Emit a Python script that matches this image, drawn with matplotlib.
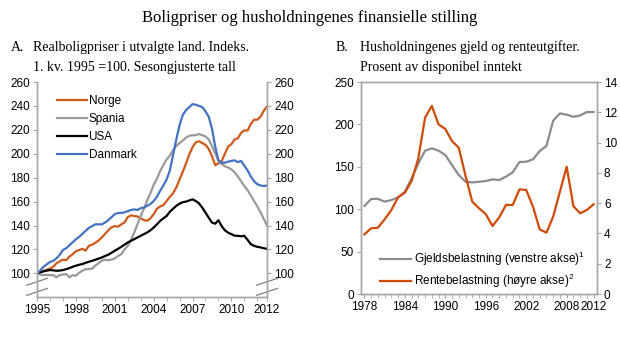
import numpy as np
import matplotlib
matplotlib.use("Agg")
import matplotlib.pyplot as plt
from matplotlib.lines import Line2D

plt.rcParams["font.family"] = ["Liberation Sans", "DejaVu Sans"]
plt.rcParams["mathtext.fontset"] = "custom"
plt.rcParams["mathtext.rm"] = "Liberation Sans"
plt.rcParams["mathtext.it"] = "Liberation Sans"

# Panel A: quarterly real house prices, 1995Q1 = 100 (1995Q1 .. 2012Q4)
norge = [100, 100.5, 102, 103, 104, 105.5, 108.5, 110, 111.5, 111, 114, 116,
         118.5, 119.5, 120.5, 119, 123, 124, 125.5, 127.5, 130, 133, 136, 138.5,
         139.5, 139, 141, 142.5, 147, 148.5, 148, 147.5, 146, 144.5, 144, 146,
         149.5, 154, 156, 157, 160.5, 164, 167, 172, 178.5, 185, 192, 199.5,
         205.5, 209.5, 210.5, 209, 207.5, 204, 198, 190.5, 192, 194, 200, 206,
         208, 212, 213, 217.5, 219.5, 219.5, 225, 228.5, 228.5, 231, 236, 239.5]
spania = [100, 99, 98.5, 98.8, 98.5, 98.6, 96.7, 98.6, 99, 99.4, 96.7, 98.5,
          98, 100.5, 102.2, 103.5, 103.6, 104, 106.5, 108.5, 110.6, 111.5, 111, 111.5,
          112.5, 114.5, 116, 120, 123, 128, 134, 141, 148, 154, 161, 167,
          174, 179, 185.5, 190.5, 195.3, 198.5, 203, 206.5, 209, 211, 213.5, 215,
          215.5, 215.5, 216.5, 215.5, 214.5, 212, 206.5, 200.5, 194, 191.5, 189.5, 188.5,
          187, 184.5, 181, 177, 173, 169.5, 165, 160.5, 156, 151, 145.5, 140]
usa = [100, 101, 101.7, 102.3, 102.8, 102.5, 102.2, 102.3, 102.8, 103.5, 104.4, 105.5,
       106.4, 107.2, 107.8, 108.8, 109.7, 110.5, 111.4, 112.3, 113.3, 114.5, 115.6, 117.2,
       118.9, 120.5, 122.2, 124, 125.8, 127.2, 128.6, 130, 131.4, 132.8, 134.2, 136,
       138.3, 141, 143.9, 146, 148, 151.5, 154, 156.5, 158.3, 159.5, 160, 161,
       161.9, 160.5, 158.5, 155, 150.8, 146.5, 142.5, 141.5, 144.4, 139.5, 136, 134,
       132.8, 131.5, 131.4, 131, 131.4, 128, 124.4, 123, 122.2, 121.7, 121, 120.5]
danmark = [100, 102.5, 105.5, 107.5, 109.5, 110.5, 112.5, 115.5, 119.5, 121, 123.5, 126,
           128.5, 130.5, 133, 135.5, 138, 139.5, 141, 141, 141, 142.5, 144.5, 147,
           149.5, 150.5, 150.5, 151, 152, 153, 153.5, 153, 154.5, 155, 156.5, 158,
           160.5, 164, 169, 173.5, 178.5, 186, 199, 212, 224, 232.5, 236.5, 239,
           241.5, 241, 240, 239, 235.5, 231, 221, 206, 194.5, 192.5, 192.5, 193.5,
           194, 194.5, 193, 194, 190, 186, 181, 177, 174.5, 173.5, 173, 173.5]
quarters = 1995 + np.arange(len(norge)) / 4

# Panel B: annual, percent of disposable income
aar = list(range(1978, 2013))
gjeld = [103.8, 112, 112.3, 108.9, 110.8, 113.9, 120.6, 136.4, 154, 169,
         171.8, 169, 163.9, 152, 140.3, 132.4, 131.6, 132.4, 133.2, 135.2,
         134.4, 138.4, 143.5, 155.7, 156, 158.8, 168.6, 174.5, 204.4, 213,
         211.5, 209, 210.6, 214.6, 214.6]
rente = [3.94, 4.34, 4.38, 4.93, 5.55, 6.39, 6.69, 7.46, 8.96, 11.65,
         12.42, 11.2, 10.9, 10.1, 9.66, 7.8, 6.1, 5.66, 5.28, 4.49,
         5.06, 5.88, 5.88, 6.91, 6.87, 5.77, 4.27, 4.05, 5.11, 6.76,
         8.41, 5.8, 5.33, 5.55, 5.93]

spine_col = "#a6a6a6"
fs = 8.5
lw = 1.6

fig = plt.figure(figsize=(6.2, 3.44), dpi=100)
fig.text(0.5, 0.947, "Boligpriser og husholdningenes finansielle stilling",
         ha="center", va="center", family="Liberation Serif", fontsize=12)
serif = dict(family="Liberation Serif", fontsize=10, va="center")
fig.text(0.018, 0.862, "A.", **serif)
fig.text(0.054, 0.862, "Realboligpriser i utvalgte land. Indeks.", **serif)
fig.text(0.054, 0.805, "1. kv. 1995 =100. Sesongjusterte tall", **serif)
fig.text(0.541, 0.862, "B.", **serif)
fig.text(0.580, 0.862, "Husholdningenes gjeld og renteutgifter.", **serif)
fig.text(0.580, 0.805, "Prosent av disponibel inntekt", **serif)


def style(ax, top=False):
    for s in ["left", "right", "bottom", "top"]:
        ax.spines[s].set_color(spine_col)
        ax.spines[s].set_linewidth(1.0)
    ax.spines["top"].set_visible(top)
    ax.tick_params(colors=spine_col, labelcolor="black", labelsize=fs,
                   length=3, width=0.8, direction="out", pad=2)


# ---- Panel A
axA = fig.add_axes([0.0597, 0.1358, 0.371, 0.6258])
axA2 = axA.twinx()
axA.plot(quarters, norge, color="#d05a1c", lw=lw, label="Norge")
axA.plot(quarters, spania, color="#9a9a9a", lw=lw, label="Spania")
axA.plot(quarters, usa, color="black", lw=lw, label="USA")
axA.plot(quarters, danmark, color="#4472c4", lw=lw, label="Danmark")
for a in (axA, axA2):
    a.set_ylim(80, 260)
    a.set_yticks(range(100, 261, 20))
    style(a)
axA.set_xlim(1995, quarters[-1])
axA.set_xticks(list(range(1995, 2011, 3)) + [quarters[-1]])
axA.set_xticklabels([str(y) for y in range(1995, 2011, 3)] + ["2012"])
axA.set_xticks(list(range(1995, 2013)), minor=True)
axA.tick_params(axis="x", which="both", length=3, colors=spine_col,
                labelcolor="black")
axA.legend(loc="upper left", bbox_to_anchor=(0.06, 0.965), frameon=False,
           fontsize=fs, handlelength=2.6, handletextpad=0.1,
           labelspacing=0.5, borderpad=0)

# axis break marks
for xc in (0.0, 1.0):
    for yc in (0.025, 0.072):
        axA.add_line(Line2D([xc - 0.045, xc + 0.045], [yc - 0.016, yc + 0.016],
                            transform=axA.transAxes, color="#808080", lw=0.9,
                            clip_on=False))

# ---- Panel B
axB = fig.add_axes([0.5823, 0.1453, 0.3806, 0.6163])
axB2 = axB.twinx()
axB.plot(aar, gjeld, color="#8c8c8c", lw=lw)
axB2.plot(aar, rente, color="#d04a08", lw=lw)
axB.set_ylim(0, 250)
axB.set_yticks(range(0, 251, 50))
axB2.set_ylim(0, 14)
axB2.set_yticks(range(0, 15, 2))
axB.set_xlim(1977.5, 2012.5)
axB.set_xticks(list(range(1978, 2009, 6)) + [2012])
axB.set_xticks(aar, minor=True)
style(axB, top=True)
style(axB2, top=True)
axB.tick_params(axis="x", which="both", length=3, colors=spine_col,
                labelcolor="black")

handles = [Line2D([], [], color="#8c8c8c", lw=lw),
           Line2D([], [], color="#d04a08", lw=lw)]
axB.legend(handles, ["Gjeldsbelastning (venstre akse)$^{1}$",
                     "Rentebelastning (høyre akse)$^{2}$"],
           loc="lower left", bbox_to_anchor=(0.055, -0.01), frameon=False,
           fontsize=fs, handlelength=2.6, handletextpad=0.3,
           labelspacing=0.3, borderpad=0)

fig.savefig("out.png", dpi=100)
